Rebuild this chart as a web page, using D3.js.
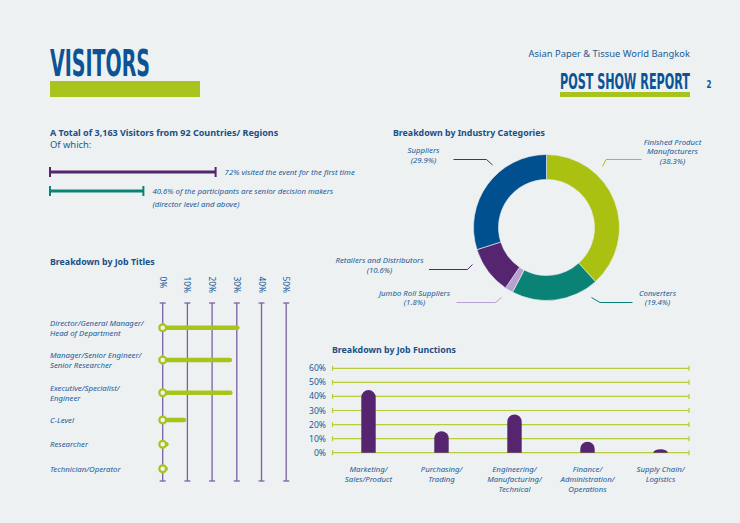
<!DOCTYPE html>
<html>
<head>
<meta charset="utf-8">
<script src="https://cdn.jsdelivr.net/npm/d3@7"></script>
<style>
  body { margin: 0; background: #edf1f1; }
  svg { display: block; font-family: "Noto Sans", "Open Sans", sans-serif; }
</style>
</head>
<body>
<div class="page"></div>
<script>
// ---- data ----
const firstTime = 72;
const seniorShare = 40.6;

const industryNames = ["Finished Product Manufacturers", "Converters", "Jumbo Roll Suppliers", "Retailers and Distributors", "Suppliers"];
const industryValues = [38.3, 19.4, 1.8, 10.6, 29.9];

const titleNames = ["Director/General Manager/|Head of Department", "Manager/Senior Engineer/|Senior Researcher", "Executive/Specialist/|Engineer", "C-Level", "Researcher", "Technician/Operator"];
const titleValues = [30.2, 27.2, 27.4, 8.6, 1.5, 1.2];
const titleTicks = [0, 10, 20, 30, 40, 50];

const functionNames = ["Marketing/|Sales/Product", "Purchasing/|Trading", "Engineering/|Manufacturing/|Technical", "Finance/|Administration/|Operations", "Supply Chain/|Logistics"];
const functionValues = [44.5, 15.3, 27.2, 7.8, 2.4];
const functionTicks = [0, 10, 20, 30, 40, 50, 60];

const blue = "#1b5a98", lime = "#a8c31c", purple = "#55256f", teal = "#0a8275";
const industryColors = ["#abc112", "#0a8275", "#b9a1cf", "#55256f", "#00508f"];

const W = 740, H = 523;
const svg = d3.select(".page").append("svg")
    .attr("width", W)
    .attr("height", H);

svg.append("rect").attr("width", W).attr("height", H).attr("fill", "#edf1f1");

const condensed = "'Liberation Sans Narrow', 'DejaVu Sans Condensed', sans-serif";

// squeeze a condensed heading to a given width by scaling it horizontally
function squeezed(x, y, size, width, txt) {
    const t = svg.append("text")
        .attr("fill", "#0c5396")
        .style("font-family", condensed)
        .style("font-weight", 700)
        .style("font-size", size + "px")
        .text(txt);
    const w = t.node().getComputedTextLength();
    t.attr("transform", `translate(${x},${y}) scale(${width / w},1)`);
    return t;
}

// ---- header ----
squeezed(50, 76, 38, 100, "VISITORS");
svg.append("rect").attr("x", 50).attr("y", 81).attr("width", 150).attr("height", 16).attr("fill", lime);

svg.append("text")
    .attr("x", 690).attr("y", 57)
    .attr("text-anchor", "end")
    .attr("fill", blue)
    .style("font-size", "9.4px")
    .text("Asian Paper & Tissue World Bangkok");
squeezed(560, 88.5, 21.5, 130, "POST SHOW REPORT");
svg.append("rect").attr("x", 560).attr("y", 92).attr("width", 130).attr("height", 5).attr("fill", lime);
squeezed(706.5, 88, 11, 5, "2");

// ---- totals ----
svg.append("text")
    .attr("x", 50).attr("y", 136)
    .attr("fill", "#1a4f86")
    .style("font-size", "9px").style("font-weight", 700)
    .text("A Total of 3,163 Visitors from 92 Countries/ Regions");
svg.append("text")
    .attr("x", 50).attr("y", 148)
    .attr("fill", blue)
    .style("font-size", "9.4px")
    .text("Of which:");

const pct = d3.scaleLinear().domain([0, 100]).range([50, 280]);
const shareRows = [
    {v: firstTime, y: 172, c: purple, lines: ["72% visited the event for the first time"]},
    {v: seniorShare, y: 191, c: teal, lines: ["40.6% of the participants are senior decision makers", "(director level and above)"]}
];
shareRows.forEach(r => {
    const g = svg.append("g").attr("stroke", r.c).attr("stroke-width", 3);
    g.append("line").attr("x1", pct(0)).attr("x2", pct(r.v)).attr("y1", r.y).attr("y2", r.y);
    g.append("line").attr("x1", pct(0)).attr("x2", pct(0)).attr("y1", r.y - 5).attr("y2", r.y + 5).attr("stroke-width", 2);
    g.append("line").attr("x1", pct(r.v)).attr("x2", pct(r.v)).attr("y1", r.y - 5).attr("y2", r.y + 5).attr("stroke-width", 2);
    r.lines.forEach((t, i) => {
        svg.append("text")
            .attr("x", pct(r.v) + 9).attr("y", r.y + 3 + i * 13)
            .attr("fill", blue)
            .style("font-size", "7.8px").style("font-style", "italic")
            .text(t);
    });
});

// ---- industry donut ----
svg.append("text")
    .attr("x", 393).attr("y", 135.5)
    .attr("fill", "#1a4f86")
    .style("font-size", "8.8px").style("font-weight", 700)
    .text("Breakdown by Industry Categories");

const cx = 546.5, cy = 227.5;
const pie = d3.pie().sort(null).value(d => d)(industryValues);
const arc = d3.arc().innerRadius(48).outerRadius(73);
const donut = svg.append("g").attr("transform", `translate(${cx},${cy})`);
donut.selectAll("path")
    .data(pie)
    .join("path")
    .attr("d", arc)
    .attr("fill", (d, i) => industryColors[i])
    .attr("stroke", "#edf1f1")
    .attr("stroke-width", 0.6);

// leader lines and labels (offsets relative to donut center)
const leaders = [
    {pts: [[56, -61], [59.5, -68], [95, -68]], tx: 126, ty: -83, lines: ["Finished Product", "Manufacturers", "(38.3%)"]},
    {pts: [[45, 70], [53.5, 75], [86, 75]], tx: 111, ty: 68, lines: ["Converters", "(19.4%)"]},
    {pts: [[-45, 70], [-51, 75], [-90, 75]], tx: -132, ty: 68, lines: ["Jumbo Roll Suppliers", "(1.8%)"]},
    {pts: [[-74, 37], [-79, 42], [-117.5, 42]], tx: -167, ty: 35.5, lines: ["Retailers and Distributors", "(10.6%)"]},
    {pts: [[-54, -62.5], [-60, -68], [-93, -68]], tx: -123, ty: -74.5, lines: ["Suppliers", "(29.9%)"]}
];
const line = d3.line();
leaders.forEach((l, i) => {
    donut.append("path")
        .attr("d", line(l.pts))
        .attr("fill", "none")
        .attr("stroke", industryColors[i])
        .attr("stroke-width", 1);
    l.lines.forEach((t, j) => {
        donut.append("text")
            .attr("x", l.tx).attr("y", l.ty + j * 9.6)
            .attr("text-anchor", "middle")
            .attr("fill", blue)
            .style("font-size", "7.8px").style("font-style", "italic")
            .text(t);
    });
});

// ---- job titles ----
svg.append("text")
    .attr("x", 50).attr("y", 265)
    .attr("fill", "#1a4f86")
    .style("font-size", "8.8px").style("font-weight", 700)
    .text("Breakdown by Job Titles");

const tx = d3.scaleLinear().domain([0, 50]).range([162.7, 286.2]);
const rowY = [327.7, 360, 392.7, 420, 444.3, 468.7];
const axT = svg.append("g");
titleTicks.forEach(t => {
    axT.append("line").attr("x1", tx(t)).attr("x2", tx(t)).attr("y1", 303).attr("y2", 481)
        .attr("stroke", "#7d5fa3").attr("stroke-width", 1.3);
    axT.append("line").attr("x1", tx(t) - 3).attr("x2", tx(t) + 3).attr("y1", 303).attr("y2", 303)
        .attr("stroke", "#7d5fa3").attr("stroke-width", 1.3);
    axT.append("line").attr("x1", tx(t) - 3).attr("x2", tx(t) + 3).attr("y1", 481).attr("y2", 481)
        .attr("stroke", "#7d5fa3").attr("stroke-width", 1.3);
    axT.append("text")
        .attr("transform", `translate(${tx(t) - 3},276.5) rotate(90)`)
        .attr("fill", blue)
        .style("font-size", "8.4px")
        .text(t + "%");
});
titleNames.forEach((n, i) => {
    const y = rowY[i];
    const parts = n.split("|");
    parts.forEach((p, j) => {
        svg.append("text")
            .attr("x", 50).attr("y", y + 3 - (parts.length - 1) * 5 + j * 10)
            .attr("fill", blue)
            .style("font-size", "7.8px").style("font-style", "italic")
            .text(p);
    });
    svg.append("line")
        .attr("x1", tx(0)).attr("x2", tx(titleValues[i])).attr("y1", y).attr("y2", y)
        .attr("stroke", lime).attr("stroke-width", 4.5).attr("stroke-linecap", "round");
    svg.append("circle")
        .attr("cx", tx(0)).attr("cy", y).attr("r", 3.4)
        .attr("fill", "#edf1f1").attr("stroke", lime).attr("stroke-width", 2.2);
});

// ---- job functions ----
svg.append("text")
    .attr("x", 332).attr("y", 352.5)
    .attr("fill", "#1a4f86")
    .style("font-size", "8.8px").style("font-weight", 700)
    .text("Breakdown by Job Functions");

const fy = d3.scaleLinear().domain([0, 60]).range([452.7, 368.3]);
const fx = d3.scaleBand().domain(functionNames).range([332, 697]);
const grid = svg.append("g");
functionTicks.forEach(t => {
    grid.append("line").attr("x1", 332.5).attr("x2", 689).attr("y1", fy(t)).attr("y2", fy(t))
        .attr("stroke", "#b8cc3e").attr("stroke-width", 1.2);
    [332.5, 689].forEach(x => grid.append("line")
        .attr("x1", x).attr("x2", x).attr("y1", fy(t) - 2.5).attr("y2", fy(t) + 2.5)
        .attr("stroke", "#b8cc3e").attr("stroke-width", 1.2));
    grid.append("text")
        .attr("x", 326).attr("y", fy(t) + 3)
        .attr("text-anchor", "end")
        .attr("fill", blue)
        .style("font-size", "8.6px")
        .text(t + "%");
});
const bw = 14.4;
functionNames.forEach((n, i) => {
    const c = fx(n) + fx.bandwidth() / 2;
    const top = fy(functionValues[i]);
    const base = fy(0);
    const r = bw / 2;
    const h = base - top;
    let d;
    if (h > r) {
        d = `M${c - r},${base}V${top + r}A${r},${r} 0 0 1 ${c + r},${top + r}V${base}Z`;
    } else {
        d = `M${c - r},${base}A${r},${h} 0 0 1 ${c + r},${base}Z`;
    }
    svg.append("path").attr("d", d).attr("fill", purple);
    n.split("|").forEach((p, j) => {
        svg.append("text")
            .attr("x", c).attr("y", 472 + j * 10)
            .attr("text-anchor", "middle")
            .attr("fill", blue)
            .style("font-size", "7.8px").style("font-style", "italic")
            .text(p);
    });
});
</script>
</body>
</html>
